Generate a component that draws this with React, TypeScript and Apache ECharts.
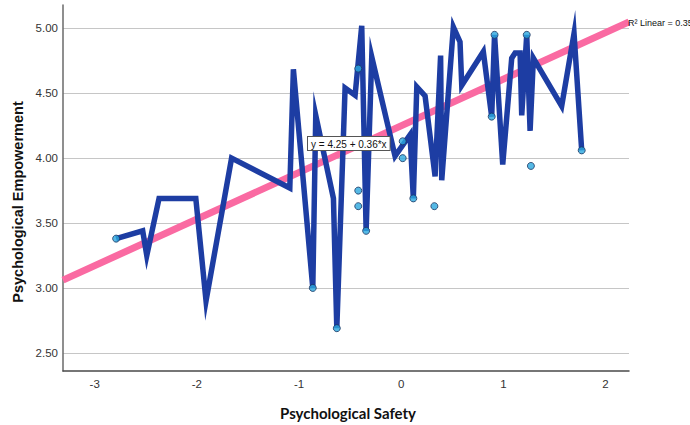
import React, { useEffect, useRef } from "react";
import * as echarts from "echarts";

// Interpolation line (sorted by Psychological Safety)
const lineX = [
  -2.79, -2.53, -2.49, -2.37, -2.01, -1.91, -1.66, -1.09, -1.055, -0.865,
  -0.836, -0.663, -0.63, -0.549, -0.451, -0.386, -0.343, -0.288, -0.06, 0.087,
  0.119, 0.153, 0.234, 0.332, 0.386, 0.397, 0.511, 0.576, 0.593, 0.804,
  0.886, 0.914, 0.994, 1.082, 1.115, 1.164, 1.18, 1.229, 1.262, 1.294,
  1.571, 1.692, 1.767,
];
const lineY = [
  3.38, 3.44, 3.25, 3.69, 3.69, 2.9, 4.0, 3.77, 4.685, 3.0,
  4.33, 3.69, 2.69, 4.54, 4.485, 5.02, 3.44, 4.78, 4.015, 4.18,
  3.69, 4.55, 4.48, 3.86, 4.79, 3.83, 5.01, 4.895, 4.56, 4.82,
  4.32, 4.95, 3.95, 4.77, 4.81, 4.81, 4.33, 4.95, 4.21, 4.77,
  4.4, 4.96, 4.06,
];

// Visible observation markers
const pointX = [-2.79, -0.865, -0.63, -0.42, -0.42, -0.42, -0.343, 0.015, 0.015, 0.119, 0.325, 0.886, 0.914, 1.229, 1.27, 1.767];
const pointY = [3.38, 3.0, 2.69, 4.69, 3.75, 3.63, 3.44, 4.13, 4.0, 3.69, 3.63, 4.32, 4.95, 4.95, 3.94, 4.06];

// Linear fit line end points
const fitX = [-3.31, 2.23];
const fitY = [3.06, 5.05];

const xRange = [-3.31, 2.23];
const yRange = [2.36, 5.18];

const fitEquation = "y = 4.25 + 0.36*x";
const rSquaredLabel = "R\u00B2 Linear = 0.357";
const xTitle = "Psychological Safety";
const yTitle = "Psychological Empowerment";

export default function App() {
  const ref = useRef<HTMLDivElement>(null);

  useEffect(() => {
    if (!ref.current) return;
    const chart = echarts.init(ref.current, undefined, { renderer: "svg" });
    const labelFont = "Liberation Sans";
    chart.setOption({
      animation: false,
      backgroundColor: "#ffffff",
      grid: { left: 63, right: 61, top: 5, bottom: 54, containLabel: false },
      xAxis: {
        type: "value",
        min: xRange[0],
        max: xRange[1],
        axisLine: { show: true, onZero: false, lineStyle: { color: "#4a4a4a", width: 1.5 } },
        axisTick: { show: false },
        splitLine: { show: false },
        axisLabel: {
          showMinLabel: false,
          showMaxLabel: false,
          margin: 7,
          color: "#333",
          fontFamily: labelFont,
          fontSize: 11.5,
        },
      },
      yAxis: {
        type: "value",
        min: yRange[0],
        max: yRange[1],
        axisLine: { show: true, onZero: false, lineStyle: { color: "#6a6a6a", width: 1.5 } },
        axisTick: { show: false },
        splitLine: {
          show: true,
          showMinLine: false,
          showMaxLine: false,
          lineStyle: { color: "#c6c6c6", width: 1.2 },
        },
        axisLabel: {
          showMinLabel: false,
          showMaxLabel: false,
          margin: 5,
          color: "#333",
          fontFamily: labelFont,
          fontSize: 11.5,
          formatter: (v: number) => v.toFixed(2),
        },
      },
      series: [
        {
          type: "line",
          data: fitX.map((x, i) => [x, fitY[i]]),
          showSymbol: false,
          symbol: "none",
          clip: false,
          z: 1,
          lineStyle: { color: "#fa6aa2", width: 7, cap: "butt" },
          silent: true,
        },
        {
          type: "line",
          data: lineX.map((x, i) => [x, lineY[i]]),
          showSymbol: false,
          symbol: "none",
          clip: false,
          z: 2,
          lineStyle: { color: "#1d3da3", width: 5.5, join: "miter", miterLimit: 9.9, cap: "butt" },
          silent: true,
        },
        {
          type: "scatter",
          data: pointX.map((x, i) => [x, pointY[i]]),
          symbol: "circle",
          symbolSize: 7,
          z: 3,
          itemStyle: { color: "#2aa7df", borderColor: "#1b3560", borderWidth: 1 },
          silent: true,
        },
      ],
      graphic: [
        {
          type: "text",
          x: 308,
          y: 137,
          z: 10,
          style: {
            text: fitEquation,
            fill: "#111",
            font: "10px Liberation Sans",
            backgroundColor: "#ffffff",
            borderColor: "#555",
            borderWidth: 1,
            padding: [2, 3, 1, 3],
          },
        },
        {
          type: "text",
          x: 628,
          y: 23,
          z: 10,
          style: {
            text: rSquaredLabel,
            fill: "#111",
            font: "9px Liberation Sans",
            verticalAlign: "middle",
          },
        },
        {
          type: "text",
          x: 348,
          y: 413,
          style: {
            text: xTitle,
            fill: "#111",
            font: "bold 15px Lato",
            align: "center",
            verticalAlign: "middle",
          },
        },
        {
          type: "text",
          x: 18,
          y: 202,
          rotation: Math.PI / 2,
          style: {
            text: yTitle,
            fill: "#111",
            font: "bold 14.5px Liberation Sans",
            align: "center",
            verticalAlign: "middle",
          },
        },
      ],
    });
    return () => chart.dispose();
  }, []);

  return (
    <div
      ref={ref}
      style={{ position: "absolute", left: 0, top: 0, width: 690, height: 425 }}
    />
  );
}
